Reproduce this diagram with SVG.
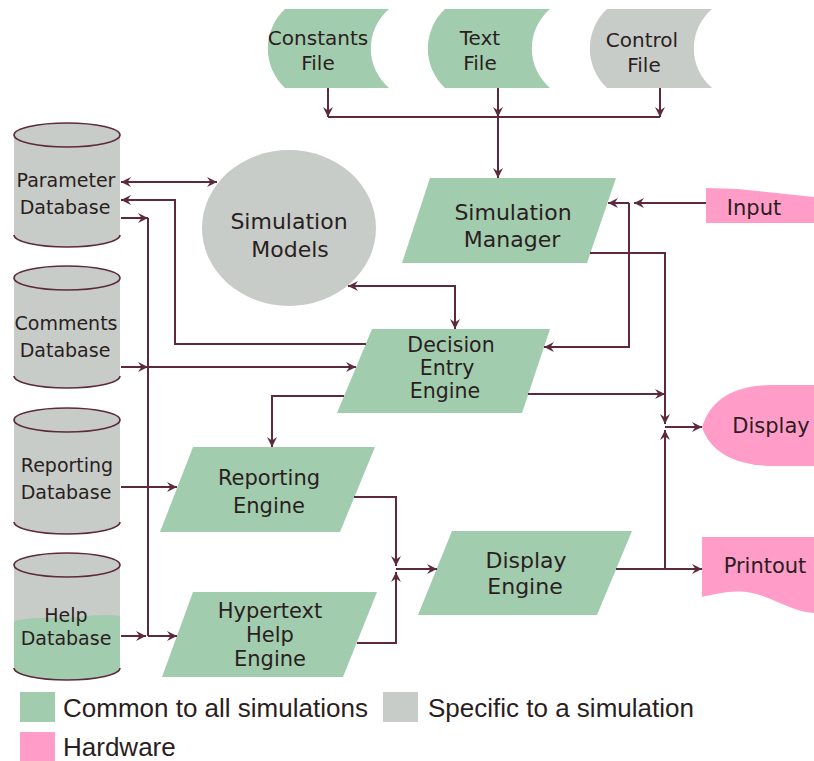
<svg xmlns="http://www.w3.org/2000/svg" width="814" height="761" viewBox="0 0 814 761">
<style>
.g{fill:#a2ccae}
.s{fill:#c8ccc8}
.p{fill:#ff9cc8}
.ol{fill:none;stroke:#5c2a3c;stroke-width:1.6}
.t{font-family:"DejaVu Sans",sans-serif;fill:#2a1e1e;text-anchor:middle}
.f20{font-size:20px}
.f19{font-size:19px}
.f22{font-size:22px}
.f21{font-size:21px}
.f205{font-size:20.5px}
.lg{font-family:"Liberation Sans",Arial,sans-serif;font-size:26px;fill:#2a1e1e}
.c{fill:none;stroke:#5c2a3c;stroke-width:2}
.a{marker-end:url(#ah)}
.b{marker-start:url(#ah);marker-end:url(#ah)}
</style>
<defs>
<marker id="ah" viewBox="0 0 10 10" refX="10" refY="5" markerWidth="10" markerHeight="10" markerUnits="userSpaceOnUse" orient="auto-start-reverse">
<path d="M0,0 L10,5 L0,10 L3.5,5 Z" fill="#5c2a3c"/>
</marker>
</defs>

<g id="constants-file">
<path class="g" d="M285,9 H389 A52,52 0 0 0 389,88 H285 A54,54 0 0 1 285,9 Z"/>
<text class="t f20" x="318" y="45">Constants</text>
<text class="t f20" x="318" y="70">File</text>
</g>
<g id="text-file">
<path class="g" d="M445,9 H550 A52,52 0 0 0 550,88 H445 A54,54 0 0 1 445,9 Z"/>
<text class="t f20" x="480" y="45">Text</text>
<text class="t f20" x="480" y="70">File</text>
</g>
<g id="control-file">
<path class="s" d="M607,9 H712 A52,52 0 0 0 712,88 H607 A54,54 0 0 1 607,9 Z"/>
<text class="t f20" x="642" y="47">Control</text>
<text class="t f20" x="644" y="72">File</text>
</g>

<g id="parameter-database">
<path class="s" d="M14,135 V235 A53,12 0 0 0 120,235 V135 Z"/>
<ellipse class="s" cx="67" cy="135" rx="53" ry="12" stroke="#5c2a3c" stroke-width="1.6"/>
<path class="ol" d="M14,235 A53,12 0 0 0 120,235"/>
<text class="t f19" x="66" y="187">Parameter</text>
<text class="t f19" x="65" y="214">Database</text>
</g>
<g id="comments-database">
<path class="s" d="M14,278 V376 A53,12 0 0 0 120,376 V278 Z"/>
<ellipse class="s" cx="67" cy="278" rx="53" ry="12" stroke="#5c2a3c" stroke-width="1.6"/>
<path class="ol" d="M14,376 A53,12 0 0 0 120,376"/>
<text class="t f19" x="66" y="330">Comments</text>
<text class="t f19" x="65" y="357">Database</text>
</g>
<g id="reporting-database">
<path class="s" d="M14,420 V522 A53,12 0 0 0 120,522 V420 Z"/>
<ellipse class="s" cx="67" cy="420" rx="53" ry="12" stroke="#5c2a3c" stroke-width="1.6"/>
<path class="ol" d="M14,522 A53,12 0 0 0 120,522"/>
<text class="t f19" x="67" y="472">Reporting</text>
<text class="t f19" x="66" y="499">Database</text>
</g>
<g id="help-database">
<path class="s" d="M14,565 V668 A53,12 0 0 0 120,668 V565 Z"/>
<path class="g" d="M14,621 C35,616 55,619 75,617 C95,615 108,614 120,616 V668 A53,12 0 0 1 14,668 Z"/>
<ellipse class="s" cx="67" cy="565" rx="53" ry="12" stroke="#5c2a3c" stroke-width="1.6"/>
<path class="ol" d="M14,668 A53,12 0 0 0 120,668"/>
<text class="t f19" x="66" y="622">Help</text>
<text class="t f19" x="66" y="645">Database</text>
</g>

<g id="simulation-models">
<ellipse class="s" cx="289" cy="228" rx="87" ry="78"/>
<text class="t f22" x="289" y="229">Simulation</text>
<text class="t f22" x="290" y="257">Models</text>
</g>
<g id="simulation-manager">
<path class="g" d="M430,178 H616 L587,263 H402 Z"/>
<text class="t f22" x="513" y="220">Simulation</text>
<text class="t f22" x="512" y="247">Manager</text>
</g>
<g id="decision-entry-engine">
<path class="g" d="M372,329 H550 L522,413 H337 Z"/>
<text class="t f205" x="451" y="352">Decision</text>
<text class="t f205" x="447" y="375">Entry</text>
<text class="t f205" x="445" y="398">Engine</text>
</g>
<g id="reporting-engine">
<path class="g" d="M193,447 H375 L340,532 H160 Z"/>
<text class="t f21" x="269" y="485">Reporting</text>
<text class="t f21" x="269" y="513">Engine</text>
</g>
<g id="hypertext-help-engine">
<path class="g" d="M193,592 H377 L343,677 H162 Z"/>
<text class="t f21" x="270" y="618">Hypertext</text>
<text class="t f21" x="270" y="642">Help</text>
<text class="t f21" x="270" y="666">Engine</text>
</g>
<g id="display-engine">
<path class="g" d="M452,531 H632 L597,615 H418 Z"/>
<text class="t f22" x="526" y="568">Display</text>
<text class="t f22" x="525" y="594">Engine</text>
</g>

<g id="input">
<path class="p" d="M706,188 L738,189 L814,197 V223 H706 Z"/>
<text class="t f21" x="754" y="215">Input</text>
</g>
<g id="display">
<path class="p" d="M702,427 C710,402 730,386 770,385 H814 V466 H775 C735,466 710,452 702,427 Z"/>
<text class="t f21" x="771" y="433">Display</text>
</g>
<g id="printout">
<path class="p" d="M702,537 H814 V613 C792,612 775,598 752,593 C733,589 716,594 702,597 Z"/>
<text class="t f21" x="765" y="573">Printout</text>
</g>

<g id="connectors">
<path class="c a" d="M328,88 V117"/>
<path class="c a" d="M498,88 V117"/>
<path class="c a" d="M660,88 V117"/>
<path class="c" d="M328,117 H660"/>
<path class="c a" d="M498,117 V178"/>
<path class="c b" d="M121,182 H217"/>
<path class="c a" d="M366,344 H175 V200 H121"/>
<path class="c a" d="M121,218 H148"/>
<path class="c" d="M148,218 V636"/>
<path class="c a" d="M121,367 H148"/>
<path class="c a" d="M148,367 H356"/>
<path class="c a" d="M121,487 H177"/>
<path class="c a" d="M121,636 H146"/>
<path class="c a" d="M148,636 H177"/>
<path class="c b" d="M348,286 H455 V329"/>
<path class="c a" d="M344,396 H272 V447"/>
<path class="c a" d="M528,394 H665"/>
<path class="c a" d="M590,253 H665 V424"/>
<path class="c a" d="M616,569 H702"/>
<path class="c a" d="M665,569 V430"/>
<path class="c a" d="M665,427 H702"/>
<path class="c a" d="M354,497 H396 V566"/>
<path class="c a" d="M357,643 H396 V572"/>
<path class="c a" d="M396,569 H437"/>
<path class="c a" d="M706,203 H634"/>
<path class="c a" d="M629,203 H608"/>
<path class="c a" d="M629,203 V347 H544"/>
</g>

<g id="legend">
<rect class="g" x="20" y="692" width="35" height="30"/>
<text class="lg" x="63" y="717">Common to all simulations</text>
<rect class="s" x="383" y="692" width="35" height="30"/>
<text class="lg" x="428" y="717">Specific to a simulation</text>
<rect class="p" x="20" y="732" width="35" height="30"/>
<text class="lg" x="63" y="756">Hardware</text>
</g>
</svg>
